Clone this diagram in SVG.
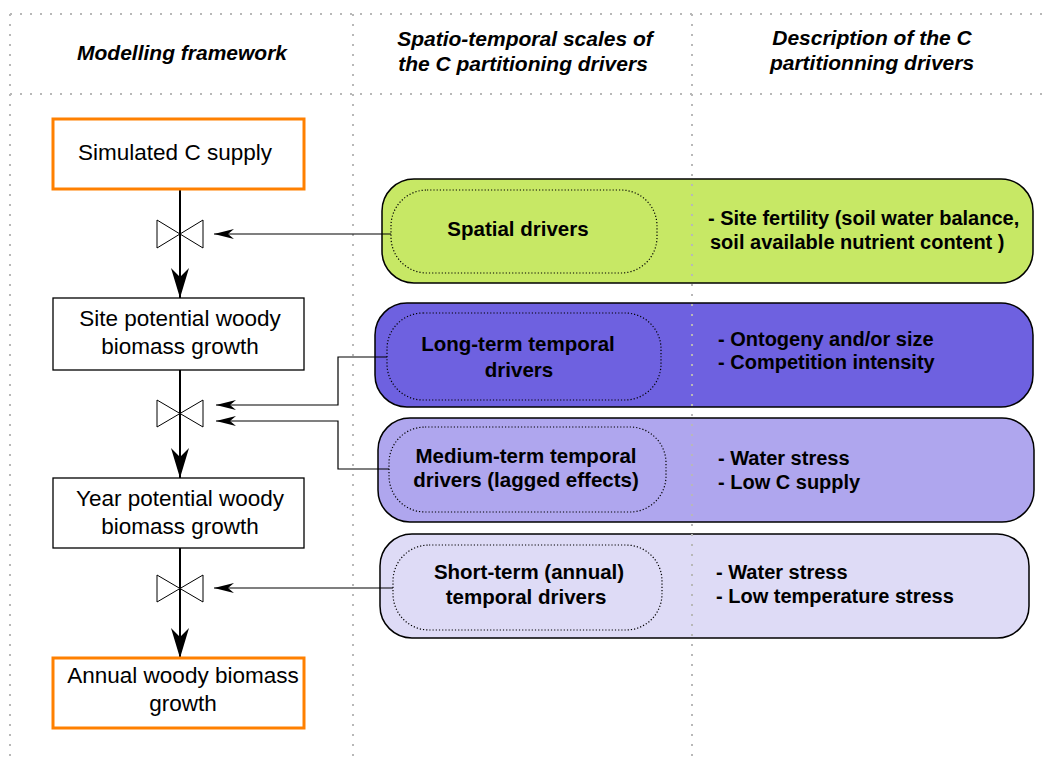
<svg xmlns="http://www.w3.org/2000/svg" width="1046" height="759" viewBox="0 0 1046 759">
<style>
.grid{stroke:#b8b8b8;stroke-width:2;stroke-dasharray:2 8;fill:none}
.hdr{font-family:"Liberation Sans",Arial,sans-serif;font-weight:bold;font-style:italic;font-size:21px;fill:#000;text-anchor:middle}
.box{fill:#fff;stroke:#000;stroke-width:1.3}
.obox{fill:#fff;stroke:#ff8000;stroke-width:3}
.btxt{font-family:"Liberation Sans",Arial,sans-serif;font-size:22.5px;fill:#000;text-anchor:middle}
.pill{stroke:#000;stroke-width:1.5}
.inner{fill:none;stroke:#000;stroke-width:1.2;stroke-dasharray:1.2 2}
.ptxt{font-family:"Liberation Sans",Arial,sans-serif;font-weight:bold;font-size:20.5px;fill:#000;text-anchor:middle}
.dtxt{font-family:"Liberation Sans",Arial,sans-serif;font-weight:bold;font-size:20px;fill:#000}
.valve{fill:#fff;stroke:#000;stroke-width:1}
.flow{fill:none;stroke:#000;stroke-width:2}
.con{fill:none;stroke:#000;stroke-width:1.2}
</style>
<defs>
<marker id="big" markerUnits="userSpaceOnUse" markerWidth="30" markerHeight="18" viewBox="0 0 30 18" refX="30" refY="9" orient="auto">
<path d="M0,0 L30,9 L0,18 L9,9 Z" fill="#000"/>
</marker>
<marker id="small" markerUnits="userSpaceOnUse" markerWidth="20" markerHeight="10" viewBox="0 0 20 10" refX="20" refY="5" orient="auto">
<path d="M0,0 L20,5 L0,10 L6,5 Z" fill="#000"/>
</marker>
</defs>
<rect width="1046" height="759" fill="#fff"/>

<g id="pills">
<g id="spatial">
<rect class="pill" x="382" y="179" width="651" height="104" rx="32" fill="#c7e865"/>
<rect class="inner" x="391" y="190" width="266" height="83" rx="36"/>
<text class="ptxt" x="518" y="236">Spatial drivers</text>
<text class="dtxt" x="708" y="225">- Site fertility (soil water balance,</text>
<text class="dtxt" x="710" y="249">soil available nutrient content )</text>
</g>
<g id="longterm">
<rect class="pill" x="375" y="303" width="658" height="104" rx="32" fill="#6e61e0"/>
<rect class="inner" x="387" y="313" width="274" height="87" rx="36"/>
<text class="ptxt" x="518" y="351">Long-term temporal</text>
<text class="ptxt" x="519" y="377">drivers</text>
<text class="dtxt" x="718" y="346">- Ontogeny and/or size</text>
<text class="dtxt" x="718" y="369">- Competition intensity</text>
</g>
<g id="mediumterm">
<rect class="pill" x="378" y="418" width="656" height="104" rx="32" fill="#afa6ee"/>
<rect class="inner" x="389" y="427" width="277" height="85" rx="36"/>
<text class="ptxt" x="526" y="463">Medium-term temporal</text>
<text class="ptxt" x="526" y="487">drivers (lagged effects)</text>
<text class="dtxt" x="718" y="465">- Water stress</text>
<text class="dtxt" x="718" y="489">- Low C supply</text>
</g>
<g id="shortterm">
<rect class="pill" x="380" y="534" width="649" height="104" rx="32" fill="#dedbf6"/>
<rect class="inner" x="393" y="545" width="269" height="85" rx="36"/>
<text class="ptxt" x="529" y="579">Short-term (annual)</text>
<text class="ptxt" x="526" y="604">temporal drivers</text>
<text class="dtxt" x="716" y="579">- Water stress</text>
<text class="dtxt" x="716" y="603">- Low temperature stress</text>
</g>
</g>

<g id="grid">
<line class="grid" x1="10" y1="14" x2="1046" y2="14"/>
<line class="grid" x1="10" y1="94" x2="1046" y2="94"/>
<line class="grid" x1="10" y1="14" x2="10" y2="759"/>
<line class="grid" x1="353" y1="14" x2="353" y2="759"/>
<line class="grid" x1="692" y1="14" x2="692" y2="759"/>
</g>

<g id="headers">
<text class="hdr" x="182" y="60">Modelling framework</text>
<text class="hdr" x="525" y="46">Spatio-temporal scales of</text>
<text class="hdr" x="523" y="71">the C partitioning drivers</text>
<text class="hdr" x="872" y="45">Description of the C</text>
<text class="hdr" x="872" y="70">partitionning drivers</text>
</g>

<g id="connectors">
<line class="flow" x1="180" y1="189" x2="180" y2="298" marker-end="url(#big)"/>
<line class="flow" x1="180" y1="370" x2="180" y2="478" marker-end="url(#big)"/>
<line class="flow" x1="180" y1="548" x2="180" y2="658" marker-end="url(#big)"/>
<path class="con" d="M391,234 H214" marker-end="url(#small)"/>
<path class="con" d="M387,357 H338 V405 H216" marker-end="url(#small)"/>
<path class="con" d="M389,469 H338 V421 H216" marker-end="url(#small)"/>
<path class="con" d="M393,588 H214" marker-end="url(#small)"/>
</g>

<g id="valve1"><path class="valve" d="M157,220 L157,248 L203,220 L203,248 Z"/></g>
<g id="valve2"><path class="valve" d="M157,400 L157,427 L203,400 L203,427 Z"/></g>
<g id="valve3"><path class="valve" d="M157,575 L157,602 L203,575 L203,602 Z"/></g>

<g id="supply">
<rect class="obox" x="53" y="119" width="251" height="70"/>
<text class="btxt" x="175" y="160">Simulated C supply</text>
</g>
<g id="site">
<rect class="box" x="53" y="298" width="251" height="72"/>
<text class="btxt" x="180" y="326">Site potential woody</text>
<text class="btxt" x="180" y="354">biomass growth</text>
</g>
<g id="year">
<rect class="box" x="53" y="478" width="251" height="70"/>
<text class="btxt" x="180" y="506">Year potential woody</text>
<text class="btxt" x="180" y="534">biomass growth</text>
</g>
<g id="annual">
<rect class="obox" x="53" y="658" width="251" height="70"/>
<text class="btxt" x="183" y="683">Annual woody biomass</text>
<text class="btxt" x="183" y="711">growth</text>
</g>
<line class="flow" x1="180" y1="220" x2="180" y2="248"/>
</svg>
